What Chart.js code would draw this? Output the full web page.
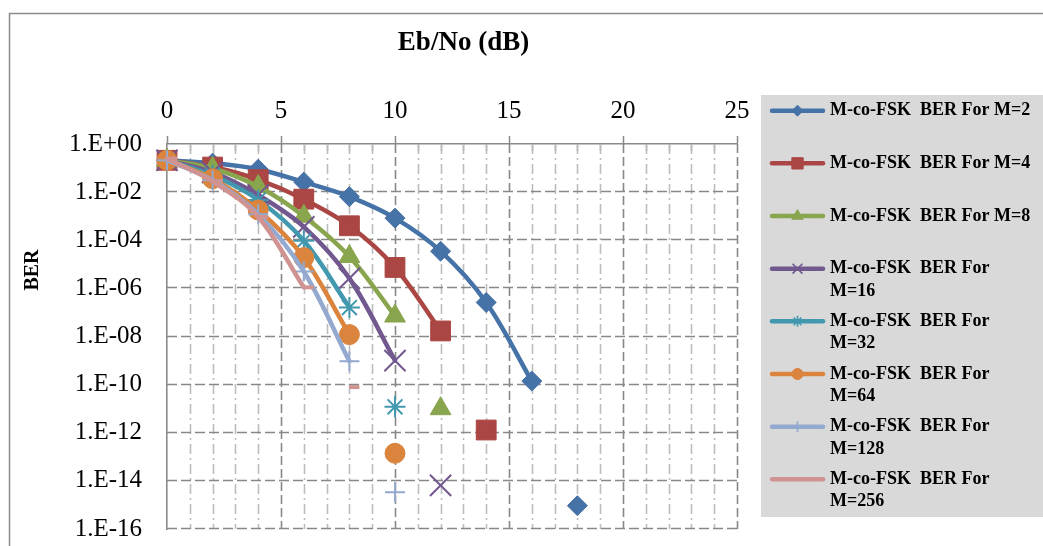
<!DOCTYPE html>
<html>
<head>
<meta charset="utf-8">
<style>
html,body{margin:0;padding:0;background:#ffffff;}
#wrap{width:1043px;height:546px;position:relative;overflow:hidden;}
canvas{display:block;}
</style>
<script src="https://cdn.jsdelivr.net/npm/chart.js@4.4.1/dist/chart.umd.min.js"></script>
</head>
<body>
<div id="wrap"><canvas id="c" width="1043" height="546"></canvas></div>
<script>
// ---------------- data ----------------
const ebno = [0, 2, 4, 6, 8, 10, 12, 14, 16, 18];
const seriesNames = [
  'M-co-FSK  BER For M=2',
  'M-co-FSK  BER For M=4',
  'M-co-FSK  BER For M=8',
  'M-co-FSK  BER For M=16',
  'M-co-FSK  BER For M=32',
  'M-co-FSK  BER For M=64',
  'M-co-FSK  BER For M=128',
  'M-co-FSK  BER For M=256'
];
const berM2   = [0.21, 0.16, 0.089, 0.026, 0.0065, 8.3e-4, 3.5e-5, 2.6e-7, 1.4e-10, 9.3e-16];
const berM4   = [0.21, 0.11, 0.033, 0.0051, 4.0e-4, 7.4e-6, 1.7e-8, 1.3e-12, null, null];
const berM8   = [0.21, 0.098, 0.017, 0.0010, 2.1e-5, 7.1e-8, 1.0e-11, null, null, null];
const berM16  = [0.21, 0.066, 0.0076, 3.6e-4, 2.6e-6, 1.0e-9, 6.5e-15, null, null, null];
const berM32  = [0.21, 0.050, 0.0047, 9.5e-5, 1.6e-7, 1.2e-11, null, null, null, null];
const berM64  = [0.21, 0.036, 0.0018, 1.9e-5, 1.2e-8, 1.4e-13, null, null, null, null];
const berM128 = [0.21, 0.031, 0.0012, 5.0e-6, 9.3e-10, 3.4e-15, null, null, null, null];
const berM256 = [0.25, 0.028, 9.3e-4, 1.1e-6, 7.9e-11, null, null, null, null, null];
// last Eb/No value that is joined by the curve (later points stand alone)
const lineEndX = [16, 12, 10, 10, 8, 8, 8, 6];
const xTickValues = [0, 5, 10, 15, 20, 25];
const yTickValues = [1, 1e-2, 1e-4, 1e-6, 1e-8, 1e-10, 1e-12, 1e-14, 1e-16];
const yTickLabels = ['1.E+00', '1.E-02', '1.E-04', '1.E-06', '1.E-08', '1.E-10', '1.E-12', '1.E-14', '1.E-16'];
const xTitle = 'Eb/No (dB)';
const yTitle = 'BER';
const allSeries = [berM2, berM4, berM8, berM16, berM32, berM64, berM128, berM256];

// ---------------- styles ----------------
const colors = ['#4572A7', '#AA4643', '#89A54E', '#71588F', '#4198AF', '#DB843D', '#93A9CF', '#D19392'];
const pStyles = ['rectRot', 'rect', 'triangle', 'crossRot', 'star', 'circle', 'cross', 'dash'];
const pRadius = [10, 14, 12, 15, 10.5, 10, 10, 10];
const pBorder = [1, 1, 1, 2, 2, 1, 2, 4];
const legRadius = [5.5, 8, 6.5, 7, 5.5, 5.5, 5.5, 0];
const SERIF = '"Liberation Serif", "Times New Roman", serif';

function buildPoints(vals, endX) {
  const pts = [];
  vals.forEach((v, i) => {
    if (v == null) return;
    const x = ebno[i];
    pts.push({x: x, y: v});
    if (x === endX && i + 1 < vals.length && vals[i + 1] != null) {
      pts.push({x: (x + ebno[i + 1]) / 2, y: null});
    }
  });
  return pts;
}

const datasets = allSeries.map((vals, i) => ({
  label: seriesNames[i],
  data: buildPoints(vals, lineEndX[i]),
  borderColor: colors[i],
  backgroundColor: colors[i],
  borderWidth: 4.5,
  borderCapStyle: 'round',
  borderJoinStyle: 'round',
  tension: 0.35,
  spanGaps: false,
  pointStyle: pStyles[i],
  pointRadius: pRadius[i],
  pointHoverRadius: pRadius[i],
  pointBorderWidth: pBorder[i],
  pointBackgroundColor: colors[i],
  pointBorderColor: colors[i],
  clip: false,
  order: allSeries.length - i
}));

const PLOT = {left: 167, top: 144, right: 737, bottom: 532};
const Y_MIN = Math.min(...yTickValues), Y_MAX = Math.max(...yTickValues);

const decor = {
  id: 'decor',
  beforeDraw(chart) {
    const ctx = chart.ctx;
    ctx.save();
    ctx.fillStyle = '#ffffff';
    ctx.fillRect(0, 0, chart.width, chart.height);
    ctx.strokeStyle = '#8c8c8c';
    ctx.lineWidth = 1.5;
    ctx.beginPath();
    ctx.moveTo(9.5, 560); ctx.lineTo(9.5, 13.5); ctx.lineTo(1060, 13.5);
    ctx.stroke();
    ctx.restore();
  },
  beforeDatasetsDraw(chart) {
    const ctx = chart.ctx;
    const xs = chart.scales.x, ys = chart.scales.y;
    const a = chart.chartArea;
    ctx.save();
    for (let v = 1; v <= 25; v++) {
      const px = Math.round(xs.getPixelForValue(v)) + 0.5;
      const major = v % 5 === 0;
      if (!major) {
        ctx.setLineDash([]);
        ctx.strokeStyle = '#9a9a9a';
        ctx.lineWidth = 1.5;
        ctx.beginPath(); ctx.moveTo(px, a.top); ctx.lineTo(px, a.top + 7); ctx.stroke();
      }
      ctx.strokeStyle = major ? '#888888' : '#bcbcbc';
      ctx.lineWidth = 1.6;
      ctx.setLineDash(major ? [9, 4] : [10, 4, 2, 4]);
      ctx.beginPath(); ctx.moveTo(px, a.top); ctx.lineTo(px, a.bottom); ctx.stroke();
    }
    ctx.strokeStyle = '#888888';
    ctx.lineWidth = 1.6;
    ctx.setLineDash([10, 4]);
    yTickValues.forEach(v => {
      if (v === Y_MAX) return;
      const py = Math.round(ys.getPixelForValue(v)) - 0.5;
      ctx.beginPath(); ctx.moveTo(a.left, py); ctx.lineTo(a.right, py); ctx.stroke();
    });
    ctx.restore();
  },
  afterDraw(chart) {
    const ctx = chart.ctx;
    ctx.save();
    ctx.fillStyle = '#000000';
    ctx.font = 'bold 27px ' + SERIF;
    ctx.textAlign = 'center';
    ctx.textBaseline = 'middle';
    ctx.fillText(xTitle, 463.5, 43);
    ctx.save();
    ctx.translate(33, 270);
    ctx.rotate(-Math.PI / 2);
    ctx.font = 'bold 20px ' + SERIF;
    ctx.fillText(yTitle, 0, 0);
    ctx.restore();

    ctx.fillStyle = '#d9d9d9';
    ctx.fillRect(761, 95, 1043 - 761, 517 - 95);
    const y0 = 110.7, dy = 52.66, gap = 22.5;
    const dp = (Chart.helpers && Chart.helpers.drawPoint) ? Chart.helpers.drawPoint : null;
    chart.data.datasets.forEach((ds, i) => {
      const y = y0 + dy * i;
      ctx.setLineDash([]);
      ctx.strokeStyle = ds.borderColor;
      ctx.lineWidth = 4.5;
      ctx.lineCap = 'round';
      ctx.beginPath(); ctx.moveTo(772, y); ctx.lineTo(823, y); ctx.stroke();
      if (dp && legRadius[i] > 0) {
        ctx.fillStyle = ds.pointBackgroundColor;
        ctx.strokeStyle = ds.pointBorderColor;
        ctx.lineWidth = Math.max(1, ds.pointBorderWidth * 0.8);
        ctx.lineCap = 'butt';
        dp(ctx, {pointStyle: ds.pointStyle, radius: legRadius[i], rotation: 0, borderWidth: ctx.lineWidth}, 797.5, y);
      }
      ctx.fillStyle = '#000000';
      ctx.font = 'bold 18px ' + SERIF;
      ctx.textAlign = 'left';
      ctx.textBaseline = 'middle';
      const txt = ds.label;
      if (ctx.measureText(txt).width > 205) {
        const k = txt.lastIndexOf(' ');
        ctx.fillText(txt.slice(0, k), 830, y);
        ctx.fillText(txt.slice(k + 1), 830, y + gap);
      } else {
        ctx.fillText(txt, 830, y);
      }
    });
    ctx.restore();
  }
};

new Chart(document.getElementById('c'), {
  type: 'line',
  data: {datasets: datasets},
  plugins: [decor],
  options: {
    responsive: false,
    animation: false,
    devicePixelRatio: 1,
    events: [],
    layout: {padding: {left: 0, top: 0, right: 1043 - PLOT.right, bottom: 546 - PLOT.bottom}},
    plugins: {legend: {display: false}, tooltip: {enabled: false}, title: {display: false}},
    scales: {
      x: {
        type: 'linear',
        position: 'top',
        min: 0,
        max: 25,
        bounds: 'data',
        afterBuildTicks: s => { s.ticks = xTickValues.map(v => ({value: v})); },
        afterFit: s => { s.height = PLOT.top; },
        ticks: {
          autoSkip: false,
          maxRotation: 0,
          padding: 10,
          color: '#000000',
          font: {family: SERIF, size: 25},
          callback: (v) => String(v)
        },
        grid: {display: true, drawOnChartArea: false, drawTicks: true, tickLength: 8, tickColor: '#8a8a8a', tickWidth: 1.5},
        border: {display: true, color: '#8a8a8a', width: 1.6}
      },
      y: {
        type: 'logarithmic',
        position: 'left',
        min: Y_MIN,
        max: Y_MAX,
        bounds: 'data',
        afterBuildTicks: s => { s.ticks = yTickValues.map(v => ({value: v})); },
        afterFit: s => { s.width = PLOT.left; },
        ticks: {
          autoSkip: false,
          padding: 0,
          color: '#000000',
          font: {family: SERIF, size: 25, lineHeight: 1},
          callback: (v, idx) => yTickLabels[idx]
        },
        grid: {display: true, drawOnChartArea: false, drawTicks: true, tickLength: 25, tickColor: 'rgba(0,0,0,0)', tickWidth: 0},
        border: {display: true, color: '#8a8a8a', width: 1.6}
      }
    }
  }
});
</script>
</body>
</html>
